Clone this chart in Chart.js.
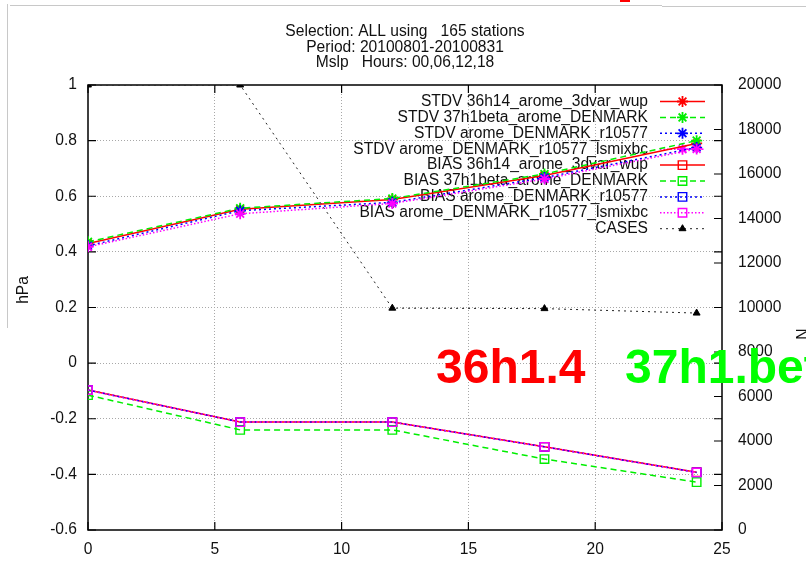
<!DOCTYPE html>
<html>
<head>
<meta charset="utf-8">
<title>Mslp verification</title>
<script src="https://cdn.jsdelivr.net/npm/chart.js@4/dist/chart.umd.min.js"></script>
<style>
  html, body { margin: 0; padding: 0; background: #fff; }
  #wrap { width: 806px; height: 574px; position: relative; }
  canvas { display: block; }
</style>
</head>
<body>
<div id="wrap"><canvas id="c" width="806" height="574"></canvas></div>
<script>
// Forecast lead time (hours)
const hours = [0, 6, 12, 18, 24];

// Standard deviation of mslp error (hPa)
const stdv36h14 = [0.43, 0.553, 0.588, 0.675, 0.79];
const stdv37h1beta = [0.436, 0.557, 0.592, 0.68, 0.80];
const stdvR10577 = [0.422, 0.548, 0.578, 0.667, 0.775];
const stdvLsmixbc = [0.418, 0.537, 0.574, 0.662, 0.77];

// Mean error of mslp (hPa)
const bias36h14 = [-0.097, -0.212, -0.212, -0.301, -0.392];
const bias37h1beta = [-0.115, -0.24, -0.24, -0.345, -0.428];
const biasR10577 = [-0.097, -0.212, -0.212, -0.301, -0.393];
const biasLsmixbc = [-0.097, -0.212, -0.212, -0.301, -0.393];

// Number of verified cases (right axis)
const cases = [20000, 20000, 9970, 9950, 9750];

// Axis tick values
const xTickValues = [0, 5, 10, 15, 20, 25];
const yTickValues = [-0.6, -0.4, -0.2, 0, 0.2, 0.4, 0.6, 0.8, 1];
const casesTickValues = [0, 2000, 4000, 6000, 8000, 10000, 12000, 14000, 16000, 18000, 20000];

const titleLines = [
  'Selection: ALL using   165 stations',
  'Period: 20100801-20100831',
  'Mslp   Hours: 00,06,12,18'
];

const FONT = '"Liberation Sans", Arial, Helvetica, sans-serif';
const FS = 15.6;

const pts = (arr) => hours.map((h, i) => ({ x: h, y: arr[i] }));

function series(label, values, color, dash, style, axis) {
  return {
    label,
    data: pts(values),
    yAxisID: axis || 'y',
    borderColor: color,
    backgroundColor: 'rgba(0,0,0,0)',
    borderWidth: 1.5,
    borderDash: dash,
    pointStyle: style,
    pointRadius: style === 'rect' ? 6 : 5.5,
    pointBorderColor: color,
    pointBackgroundColor: 'rgba(0,0,0,0)',
    pointBorderWidth: style === 'rect' ? 1.4 : 1.8,
    tension: 0,
    fill: false
  };
}

const datasets = [
  series('STDV 36h14_arome_3dvar_wup', stdv36h14, '#ff0000', [], 'star'),
  series('STDV 37h1beta_arome_DENMARK', stdv37h1beta, '#00ee00', [6, 4], 'star'),
  series('STDV arome_DENMARK_r10577', stdvR10577, '#0000ff', [2, 3], 'star'),
  series('STDV arome_DENMARK_r10577_lsmixbc', stdvLsmixbc, '#ff00ff', [1.5, 2], 'star'),
  series('BIAS 36h14_arome_3dvar_wup', bias36h14, '#ff0000', [], 'rect'),
  series('BIAS 37h1beta_arome_DENMARK', bias37h1beta, '#00ee00', [6, 4], 'rect'),
  series('BIAS arome_DENMARK_r10577', biasR10577, '#0000ff', [2, 3], 'rect'),
  series('BIAS arome_DENMARK_r10577_lsmixbc', biasLsmixbc, '#ff00ff', [1.5, 2], 'rect'),
  Object.assign(series('CASES', cases, '#222222', [2, 4], 'triangle', 'y2'), {
    borderWidth: 1,
    pointRadius: 4,
    pointBorderColor: '#000000',
    pointBackgroundColor: '#000000',
    pointBorderWidth: 1
  })
];
// later series are painted on top of earlier ones
datasets.forEach((d, i) => { d.order = datasets.length - i; });

function markerFallback(ctx, style, r, x, y) {
  ctx.beginPath();
  if (style === 'star') {
    const o = r * Math.SQRT1_2;
    ctx.moveTo(x - r, y); ctx.lineTo(x + r, y);
    ctx.moveTo(x, y - r); ctx.lineTo(x, y + r);
    ctx.moveTo(x - o, y - o); ctx.lineTo(x + o, y + o);
    ctx.moveTo(x - o, y + o); ctx.lineTo(x + o, y - o);
    ctx.stroke();
  } else if (style === 'rect') {
    const s = r * Math.SQRT1_2;
    ctx.rect(x - s, y - s, 2 * s, 2 * s);
    ctx.stroke();
  } else {
    ctx.moveTo(x, y - r);
    ctx.lineTo(x + r * 0.87, y + r * 0.5);
    ctx.lineTo(x - r * 0.87, y + r * 0.5);
    ctx.closePath();
    ctx.fill();
  }
}

const decorations = {
  id: 'decorations',
  beforeDatasetsDraw(chart) {
    const { ctx, chartArea: a, scales } = chart;
    ctx.save();
    // plot frame
    ctx.strokeStyle = '#000';
    ctx.lineWidth = 1.5;
    ctx.setLineDash([]);
    ctx.strokeRect(a.left, a.top, a.right - a.left, a.bottom - a.top);
    // inward tick marks (left axis mirrored on the right border)
    ctx.lineWidth = 1.2;
    ctx.beginPath();
    const tl = 8;
    scales.y.ticks.forEach(t => {
      const p = scales.y.getPixelForValue(t.value);
      ctx.moveTo(a.left, p); ctx.lineTo(a.left + tl, p);
      ctx.moveTo(a.right, p); ctx.lineTo(a.right - tl, p);
    });
    scales.y2.ticks.forEach(t => {
      const p = scales.y2.getPixelForValue(t.value);
      ctx.moveTo(a.right, p); ctx.lineTo(a.right - tl, p);
    });
    scales.x.ticks.forEach(t => {
      const p = scales.x.getPixelForValue(t.value);
      ctx.moveTo(p, a.bottom); ctx.lineTo(p, a.bottom - tl);
      ctx.moveTo(p, a.top); ctx.lineTo(p, a.top + tl);
    });
    ctx.stroke();

    // key
    const textRight = 648, sx0 = 660, sx1 = 705, rowTop = 101.5, rowH = 15.9;
    ctx.font = FS + 'px ' + FONT;
    ctx.textAlign = 'right';
    ctx.textBaseline = 'middle';
    chart.data.datasets.forEach((d, i) => {
      const y = rowTop + i * rowH;
      ctx.fillStyle = '#111';
      ctx.fillText(d.label, textRight, y);
      ctx.strokeStyle = d.borderColor;
      ctx.lineWidth = d.borderWidth;
      ctx.setLineDash(d.borderDash);
      ctx.beginPath();
      ctx.moveTo(sx0, y); ctx.lineTo(sx1, y);
      ctx.stroke();
      ctx.setLineDash([]);
      ctx.strokeStyle = d.pointBorderColor;
      ctx.lineWidth = d.pointBorderWidth;
      ctx.fillStyle = d.pointBackgroundColor;
      const mx = (sx0 + sx1) / 2;
      if (Chart.helpers && Chart.helpers.drawPoint) {
        Chart.helpers.drawPoint(ctx, {
          pointStyle: d.pointStyle, rotation: 0,
          radius: d.pointRadius, borderWidth: d.pointBorderWidth
        }, mx, y);
      } else {
        markerFallback(ctx, d.pointStyle, d.pointRadius, mx, y);
      }
    });
    ctx.restore();
  },
  afterDraw(chart) {
    const { ctx, chartArea: a } = chart;
    ctx.save();
    // page edges
    ctx.strokeStyle = '#c8c8c8';
    ctx.lineWidth = 1;
    ctx.beginPath();
    ctx.moveTo(7.5, 4); ctx.lineTo(7.5, 328);
    ctx.moveTo(10, 5.5); ctx.lineTo(662, 5.5);
    ctx.moveTo(662, 6.5); ctx.lineTo(806, 6.5);
    ctx.stroke();
    ctx.fillStyle = '#ff0000';
    ctx.fillRect(620, 0, 10, 2);

    // heading
    ctx.fillStyle = '#111';
    ctx.font = FS + 'px ' + FONT;
    ctx.textAlign = 'center';
    ctx.textBaseline = 'alphabetic';
    const cx = (a.left + a.right) / 2;
    [36, 52, 67].forEach((by, i) => ctx.fillText(titleLines[i], cx, by));

    // left axis unit
    ctx.save();
    ctx.translate(24, 290);
    ctx.rotate(-Math.PI / 2);
    ctx.textBaseline = 'middle';
    ctx.fillText('hPa', 0, 0);
    ctx.restore();

    // right axis name, mostly off the page
    ctx.save();
    ctx.translate(804, 334);
    ctx.rotate(-Math.PI / 2);
    ctx.textAlign = 'center';
    ctx.textBaseline = 'middle';
    ctx.fillText('N', 0, 0);
    ctx.restore();

    // version labels
    ctx.font = 'bold 48px ' + FONT;
    ctx.textAlign = 'left';
    ctx.textBaseline = 'alphabetic';
    ctx.fillStyle = '#ff0000';
    ctx.fillText('36h1.4', 436, 383);
    ctx.fillStyle = '#00ff00';
    ctx.fillText('37h1.beta', 625, 383);
    ctx.restore();
  }
};

const tickFont = { family: FONT, size: FS };
const gridColor = (edgeValues) => (c) =>
  (c.tick && edgeValues.includes(c.tick.value)) ? 'rgba(0,0,0,0)' : '#a8a8a8';

new Chart(document.getElementById('c'), {
  type: 'line',
  data: { datasets },
  options: {
    responsive: false,
    animation: false,
    devicePixelRatio: 1,
    layout: { padding: { top: 85, left: 0, right: 0, bottom: 0 } },
    plugins: { legend: { display: false }, title: { display: false }, tooltip: { enabled: false } },
    scales: {
      x: {
        type: 'linear',
        min: 0, max: 25,
        afterBuildTicks: s => { s.ticks = xTickValues.map(v => ({ value: v })); },
        afterFit: s => { s.height = 44; },
        ticks: { font: tickFont, color: '#111', padding: 10, maxRotation: 0, callback: v => String(v) },
        grid: { color: gridColor([0, 25]), drawTicks: false, lineWidth: 1 },
        border: { display: false, dash: [1, 2] }
      },
      y: {
        type: 'linear',
        position: 'left',
        min: -0.6, max: 1,
        afterBuildTicks: s => { s.ticks = yTickValues.map(v => ({ value: v })); },
        afterFit: s => { s.width = 88; },
        ticks: { font: tickFont, color: '#111', padding: 11, callback: v => String(Math.round(v * 10) / 10) },
        grid: { color: gridColor([-0.6, 1]), drawTicks: false, lineWidth: 1 },
        border: { display: false, dash: [1, 2] }
      },
      y2: {
        type: 'linear',
        position: 'right',
        min: 0, max: 20000,
        afterBuildTicks: s => { s.ticks = casesTickValues.map(v => ({ value: v })); },
        afterFit: s => { s.width = 84; },
        ticks: { font: tickFont, color: '#111', padding: 16, callback: v => String(v) },
        grid: { display: false, drawTicks: false },
        border: { display: false }
      }
    }
  },
  plugins: [decorations]
});
</script>
</body>
</html>
